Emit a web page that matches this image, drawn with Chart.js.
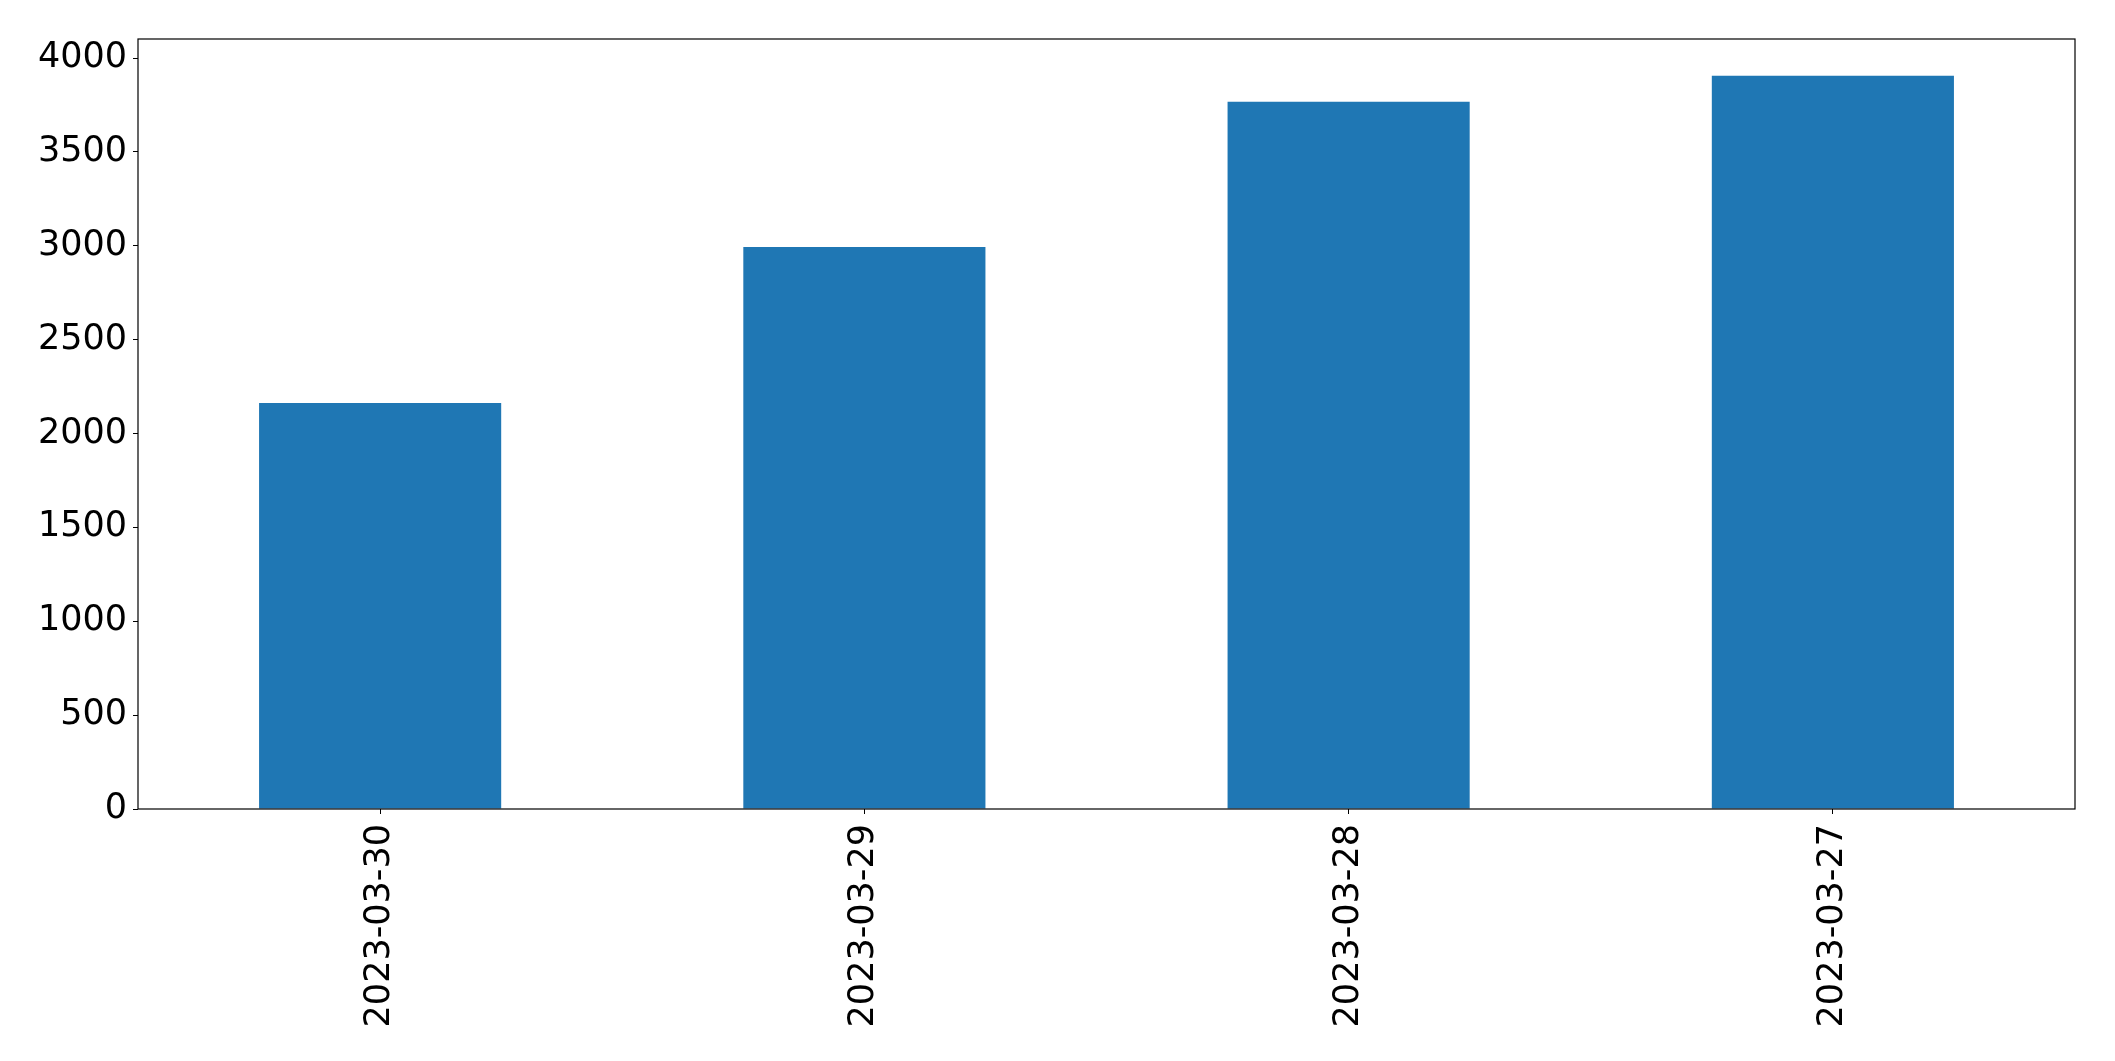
<!DOCTYPE html>
<html>
<head>
<meta charset="utf-8">
<script src="https://cdn.jsdelivr.net/npm/chart.js@4"></script>
<style>
  html, body { margin: 0; padding: 0; background: #fff; }
  #wrap { width: 2115px; height: 1061px; }
</style>
</head>
<body>
<div id="wrap"><canvas id="chart" width="2115" height="1061"></canvas></div>
<script>
// dati
const dates = ['2023-03-30', '2023-03-29', '2023-03-28', '2023-03-27'];
const counts = [2163, 2994, 3767, 3906];
const yTicks = [0, 500, 1000, 1500, 2000, 2500, 3000, 3500, 4000];

const yMax = Math.max(...counts) * 1.05; // margine stile matplotlib

// cornice attorno all'area del grafico
const frame = {
  id: 'frame',
  afterDraw(chart){
    const a = chart.chartArea;
    const ctx = chart.ctx;
    ctx.save();
    ctx.strokeStyle = '#000';
    ctx.lineWidth = 1.2;
    ctx.strokeRect(a.left, a.top, a.right - a.left, a.bottom - a.top);
    ctx.restore();
  }
};

new Chart(document.getElementById('chart'), {
  type: 'bar',
  data: {
    labels: dates,
    datasets: [{
      data: counts,
      backgroundColor: '#1f77b4',
      borderWidth: 0,
      barPercentage: 0.5,
      categoryPercentage: 1
    }]
  },
  options: {
    responsive: false,
    animation: false,
    layout: { padding: { top: 39, right: 40, left: 0, bottom: 0 } },
    plugins: { legend: { display: false }, tooltip: { enabled: false } },
    scales: {
      x: {
        offset: true,
        grid: { display: true, drawOnChartArea: false, drawTicks: true, tickLength: 5, color: '#000', offset: false },
        border: { display: false },
        ticks: {
          color: '#000',
          minRotation: 90,
          maxRotation: 90,
          padding: 10,
          font: { family: 'DejaVu Sans', size: 35 }
        },
        afterFit(scale){ scale.height = 1061 - 809; }
      },
      y: {
        min: 0,
        max: yMax,
        grid: { display: true, drawOnChartArea: false, drawTicks: true, tickLength: 5, color: '#000' },
        border: { display: false },
        ticks: {
          color: '#000',
          padding: 6,
          font: { family: 'DejaVu Sans', size: 35 },
          callback: v => String(v)
        },
        afterBuildTicks(scale){
          scale.ticks = yTicks.map(v => ({ value: v }));
        },
        afterFit(scale){ scale.width = 138; }
      }
    }
  },
  plugins: [frame]
});
</script>
</body>
</html>
